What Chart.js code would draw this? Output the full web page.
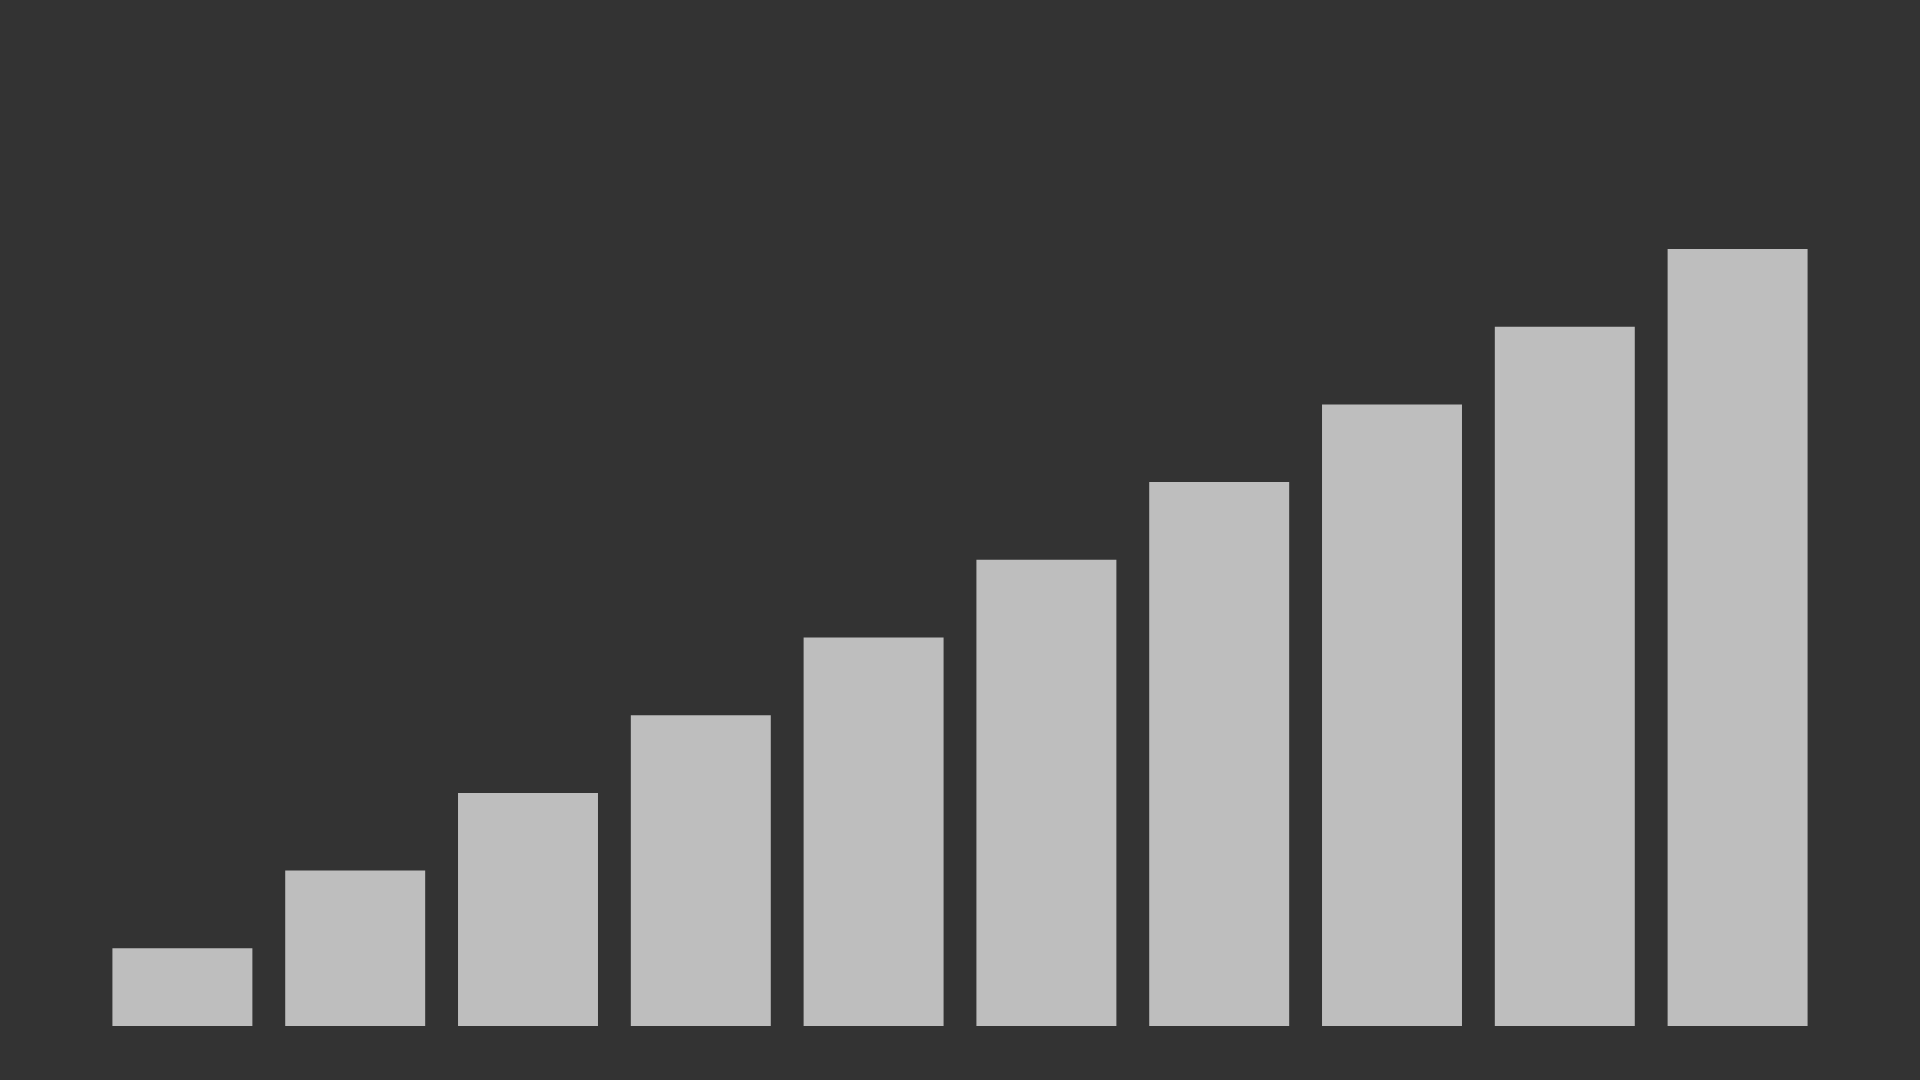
<!DOCTYPE html>
<html>
<head>
<meta charset="utf-8">
<script src="https://cdn.jsdelivr.net/npm/chart.js@4"></script>
<style>
  html, body { margin: 0; padding: 0; background: #333333; }
  #wrap { width: 1920px; height: 1080px; }
</style>
</head>
<body>
<div id="wrap"><canvas id="barChart"></canvas></div>
<script>
// data
const categories = ["1", "2", "3", "4", "5", "6", "7", "8", "9", "10"];
const values = [1, 2, 3, 4, 5, 6, 7, 8, 9, 10];

new Chart(document.getElementById("barChart"), {
  type: "bar",
  data: {
    labels: categories,
    datasets: [{
      data: values,
      backgroundColor: "#bebebe",
      borderWidth: 0,
      barPercentage: 0.9,
      categoryPercentage: 0.9
    }]
  },
  options: {
    responsive: true,
    maintainAspectRatio: false,
    animation: false,
    layout: { padding: { top: 249, bottom: 54, left: 96, right: 96 } },
    plugins: { legend: { display: false }, tooltip: { enabled: false } },
    scales: {
      x: { display: false, offset: true },
      y: { display: false, min: 0, max: 10 }
    }
  }
});
</script>
</body>
</html>
